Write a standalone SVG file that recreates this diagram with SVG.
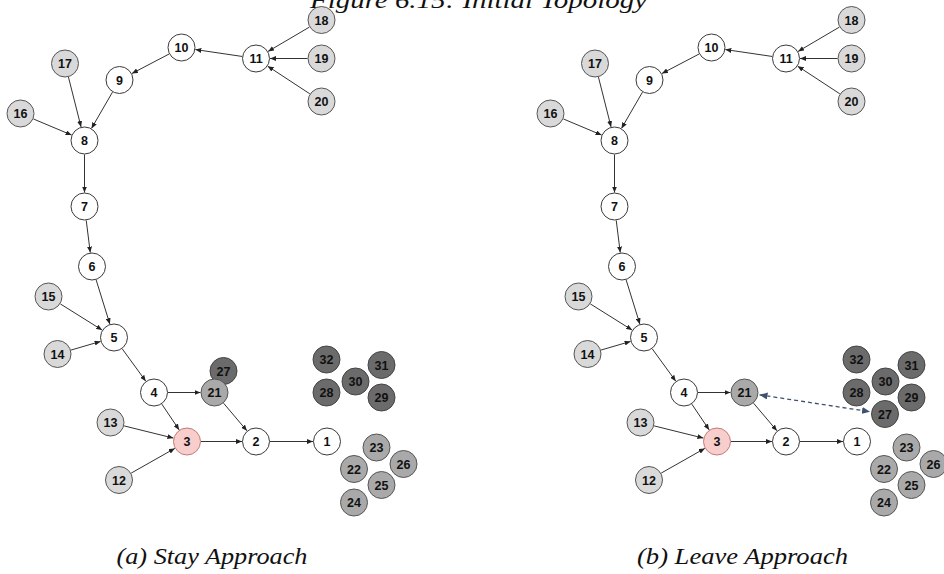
<svg xmlns="http://www.w3.org/2000/svg" width="944" height="574" viewBox="0 0 944 574">
  <style>
    .n circle { stroke: #3a3a3a; stroke-width: 1; }
    .n text { font-family: "Liberation Sans", Arial, sans-serif; font-weight: bold; font-size: 12.5px; fill: #111; text-anchor: middle; }
    .w circle { fill: #ffffff; }
    .l circle { fill: #d9d9d9; stroke: #555; }
    .m circle { fill: #a9a9a9; stroke: #555; }
    .d circle { fill: #6b6b6b; stroke: #444; }
    .p circle { fill: #f8cecc; stroke: #c47a77; }
    .e line { stroke: #333; stroke-width: 1; fill: none; marker-end: url(#ah); }
    .cap { font-family: "Liberation Serif", "Times New Roman", serif; font-style: italic; font-size: 24px; fill: #111; }
  </style>
  <defs>
    <marker id="ah" markerWidth="6" markerHeight="5" refX="6" refY="2.5" orient="auto" markerUnits="userSpaceOnUse">
      <path d="M0,0 L6,2.5 L0,5 z" fill="#222"/>
    </marker>
    <marker id="dh" markerWidth="8" markerHeight="7" refX="8" refY="3.5" orient="auto-start-reverse" markerUnits="userSpaceOnUse">
      <path d="M0,0 L8,3.5 L0,7 z" fill="#3e5170"/>
    </marker>
  </defs>

  <rect x="0" y="0" width="944" height="574" fill="#ffffff"/>

  <!-- figure title, partly above the top edge -->
  <text class="cap" x="310" y="8" textLength="337" lengthAdjust="spacingAndGlyphs">Figure 6.15: Initial Topology</text>

  <!-- ===== panel (a) ===== -->
  <g id="panel-a">
    <g id="a-edges" class="e">
      <line x1="242.15" y1="56.45" x2="195.35" y2="49.55"/>
      <line x1="309.43" y1="27.09" x2="268.07" y2="51.41"/>
      <line x1="307.5" y1="58.5" x2="270" y2="58.5"/>
      <line x1="309.8" y1="93.82" x2="267.7" y2="66.18"/>
      <line x1="169.1" y1="54" x2="131.9" y2="73.5"/>
      <line x1="112.49" y1="92.12" x2="91.51" y2="128.38"/>
      <line x1="68.44" y1="77.07" x2="81.06" y2="126.93"/>
      <line x1="33.4" y1="118.94" x2="71.6" y2="135.06"/>
      <line x1="84.5" y1="154.5" x2="84.5" y2="192.5"/>
      <line x1="86.24" y1="220.39" x2="90.26" y2="252.61"/>
      <line x1="96.14" y1="279.87" x2="109.86" y2="324.13"/>
      <line x1="60.37" y1="303.93" x2="102.13" y2="330.07"/>
      <line x1="70.94" y1="350.08" x2="100.56" y2="341.42"/>
      <line x1="122.23" y1="348.82" x2="145.77" y2="381.18"/>
      <line x1="168" y1="392.5" x2="200.5" y2="392.5"/>
      <line x1="161.82" y1="404.11" x2="179.18" y2="429.89"/>
      <line x1="223.55" y1="403.18" x2="246.95" y2="430.82"/>
      <line x1="124.09" y1="425.88" x2="173.41" y2="438.12"/>
      <line x1="131.18" y1="473.1" x2="174.82" y2="448.4"/>
      <line x1="201" y1="441.5" x2="242" y2="441.5"/>
      <line x1="270" y1="441.5" x2="313" y2="441.5"/>
    </g>
    <g id="a-n1" class="n w"><circle cx="327" cy="441.5" r="13.5"/><text x="327" y="446">1</text></g>
    <g id="a-n2" class="n w"><circle cx="256" cy="441.5" r="13.5"/><text x="256" y="446">2</text></g>
    <g id="a-n3" class="n p"><circle cx="187" cy="441.5" r="13.5"/><text x="187" y="446">3</text></g>
    <g id="a-n4" class="n w"><circle cx="154" cy="392.5" r="13.5"/><text x="154" y="397">4</text></g>
    <g id="a-n5" class="n w"><circle cx="114" cy="337.5" r="13.5"/><text x="114" y="342">5</text></g>
    <g id="a-n6" class="n w"><circle cx="92" cy="266.5" r="13.5"/><text x="92" y="271">6</text></g>
    <g id="a-n7" class="n w"><circle cx="84.5" cy="206.5" r="13.5"/><text x="84.5" y="211">7</text></g>
    <g id="a-n8" class="n w"><circle cx="84.5" cy="140.5" r="13.5"/><text x="84.5" y="145">8</text></g>
    <g id="a-n9" class="n w"><circle cx="119.5" cy="80" r="13.5"/><text x="119.5" y="84.5">9</text></g>
    <g id="a-n10" class="n w"><circle cx="181.5" cy="47.5" r="13.5"/><text x="181.5" y="52">10</text></g>
    <g id="a-n11" class="n w"><circle cx="256" cy="58.5" r="13.5"/><text x="256" y="63">11</text></g>
    <g id="a-n12" class="n l"><circle cx="119" cy="480" r="13.5"/><text x="119" y="484.5">12</text></g>
    <g id="a-n13" class="n l"><circle cx="110.5" cy="422.5" r="13.5"/><text x="110.5" y="427">13</text></g>
    <g id="a-n14" class="n l"><circle cx="57.5" cy="354" r="13.5"/><text x="57.5" y="358.5">14</text></g>
    <g id="a-n15" class="n l"><circle cx="48.5" cy="296.5" r="13.5"/><text x="48.5" y="301">15</text></g>
    <g id="a-n16" class="n l"><circle cx="20.5" cy="113.5" r="13.5"/><text x="20.5" y="118">16</text></g>
    <g id="a-n17" class="n l"><circle cx="65" cy="63.5" r="13.5"/><text x="65" y="68">17</text></g>
    <g id="a-n18" class="n l"><circle cx="321.5" cy="20" r="13.5"/><text x="321.5" y="24.5">18</text></g>
    <g id="a-n19" class="n l"><circle cx="321.5" cy="58.5" r="13.5"/><text x="321.5" y="63">19</text></g>
    <g id="a-n20" class="n l"><circle cx="321.5" cy="101.5" r="13.5"/><text x="321.5" y="106">20</text></g>
    <g id="a-n27" class="n d"><circle cx="223.5" cy="371" r="13.5"/><text x="223.5" y="375.5">27</text></g>
    <g id="a-n21" class="n m"><circle cx="214.5" cy="392.5" r="13.5"/><text x="214.5" y="397">21</text></g>
    <g id="a-n22" class="n m"><circle cx="354" cy="469" r="13.5"/><text x="354" y="473.5">22</text></g>
    <g id="a-n23" class="n m"><circle cx="376.5" cy="447.5" r="13.5"/><text x="376.5" y="452">23</text></g>
    <g id="a-n24" class="n m"><circle cx="354" cy="502.5" r="13.5"/><text x="354" y="507">24</text></g>
    <g id="a-n25" class="n m"><circle cx="381.5" cy="485" r="13.5"/><text x="381.5" y="489.5">25</text></g>
    <g id="a-n26" class="n m"><circle cx="403.5" cy="464" r="13.5"/><text x="403.5" y="468.5">26</text></g>
    <g id="a-n28" class="n d"><circle cx="326.5" cy="392.5" r="13.5"/><text x="326.5" y="397">28</text></g>
    <g id="a-n29" class="n d"><circle cx="381.5" cy="397.5" r="13.5"/><text x="381.5" y="402">29</text></g>
    <g id="a-n30" class="n d"><circle cx="355.5" cy="381.5" r="13.5"/><text x="355.5" y="386">30</text></g>
    <g id="a-n31" class="n d"><circle cx="381.5" cy="365" r="13.5"/><text x="381.5" y="369.5">31</text></g>
    <g id="a-n32" class="n d"><circle cx="326.5" cy="359.5" r="13.5"/><text x="326.5" y="364">32</text></g>
  </g>
  <text class="cap" x="116.5" y="564" textLength="191" lengthAdjust="spacingAndGlyphs">(a) Stay Approach</text>

  <!-- ===== panel (b): same tree, node 27 moved into the dark cluster ===== -->
  <g id="panel-b" transform="translate(530,0)">
    <g id="b-edges" class="e">
      <line x1="242.15" y1="56.45" x2="195.35" y2="49.55"/>
      <line x1="309.43" y1="27.09" x2="268.07" y2="51.41"/>
      <line x1="307.5" y1="58.5" x2="270" y2="58.5"/>
      <line x1="309.8" y1="93.82" x2="267.7" y2="66.18"/>
      <line x1="169.1" y1="54" x2="131.9" y2="73.5"/>
      <line x1="112.49" y1="92.12" x2="91.51" y2="128.38"/>
      <line x1="68.44" y1="77.07" x2="81.06" y2="126.93"/>
      <line x1="33.4" y1="118.94" x2="71.6" y2="135.06"/>
      <line x1="84.5" y1="154.5" x2="84.5" y2="192.5"/>
      <line x1="86.24" y1="220.39" x2="90.26" y2="252.61"/>
      <line x1="96.14" y1="279.87" x2="109.86" y2="324.13"/>
      <line x1="60.37" y1="303.93" x2="102.13" y2="330.07"/>
      <line x1="70.94" y1="350.08" x2="100.56" y2="341.42"/>
      <line x1="122.23" y1="348.82" x2="145.77" y2="381.18"/>
      <line x1="168" y1="392.5" x2="200.5" y2="392.5"/>
      <line x1="161.82" y1="404.11" x2="179.18" y2="429.89"/>
      <line x1="223.55" y1="403.18" x2="246.95" y2="430.82"/>
      <line x1="124.09" y1="425.88" x2="173.41" y2="438.12"/>
      <line x1="131.18" y1="473.1" x2="174.82" y2="448.4"/>
      <line x1="201" y1="441.5" x2="242" y2="441.5"/>
      <line x1="270" y1="441.5" x2="313" y2="441.5"/>
      <!-- 21 <-> 27 link -->
      <line x1="229.5" y1="394.8" x2="340" y2="411.7" style="stroke:#3e5170;stroke-width:1.3;stroke-dasharray:4 3;marker-start:url(#dh);marker-end:url(#dh)"/>
    </g>
    <g id="b-n1" class="n w"><circle cx="327" cy="441.5" r="13.5"/><text x="327" y="446">1</text></g>
    <g id="b-n2" class="n w"><circle cx="256" cy="441.5" r="13.5"/><text x="256" y="446">2</text></g>
    <g id="b-n3" class="n p"><circle cx="187" cy="441.5" r="13.5"/><text x="187" y="446">3</text></g>
    <g id="b-n4" class="n w"><circle cx="154" cy="392.5" r="13.5"/><text x="154" y="397">4</text></g>
    <g id="b-n5" class="n w"><circle cx="114" cy="337.5" r="13.5"/><text x="114" y="342">5</text></g>
    <g id="b-n6" class="n w"><circle cx="92" cy="266.5" r="13.5"/><text x="92" y="271">6</text></g>
    <g id="b-n7" class="n w"><circle cx="84.5" cy="206.5" r="13.5"/><text x="84.5" y="211">7</text></g>
    <g id="b-n8" class="n w"><circle cx="84.5" cy="140.5" r="13.5"/><text x="84.5" y="145">8</text></g>
    <g id="b-n9" class="n w"><circle cx="119.5" cy="80" r="13.5"/><text x="119.5" y="84.5">9</text></g>
    <g id="b-n10" class="n w"><circle cx="181.5" cy="47.5" r="13.5"/><text x="181.5" y="52">10</text></g>
    <g id="b-n11" class="n w"><circle cx="256" cy="58.5" r="13.5"/><text x="256" y="63">11</text></g>
    <g id="b-n12" class="n l"><circle cx="119" cy="480" r="13.5"/><text x="119" y="484.5">12</text></g>
    <g id="b-n13" class="n l"><circle cx="110.5" cy="422.5" r="13.5"/><text x="110.5" y="427">13</text></g>
    <g id="b-n14" class="n l"><circle cx="57.5" cy="354" r="13.5"/><text x="57.5" y="358.5">14</text></g>
    <g id="b-n15" class="n l"><circle cx="48.5" cy="296.5" r="13.5"/><text x="48.5" y="301">15</text></g>
    <g id="b-n16" class="n l"><circle cx="20.5" cy="113.5" r="13.5"/><text x="20.5" y="118">16</text></g>
    <g id="b-n17" class="n l"><circle cx="65" cy="63.5" r="13.5"/><text x="65" y="68">17</text></g>
    <g id="b-n18" class="n l"><circle cx="321.5" cy="20" r="13.5"/><text x="321.5" y="24.5">18</text></g>
    <g id="b-n19" class="n l"><circle cx="321.5" cy="58.5" r="13.5"/><text x="321.5" y="63">19</text></g>
    <g id="b-n20" class="n l"><circle cx="321.5" cy="101.5" r="13.5"/><text x="321.5" y="106">20</text></g>
    <g id="b-n21" class="n m"><circle cx="214.5" cy="392.5" r="13.5"/><text x="214.5" y="397">21</text></g>
    <g id="b-n22" class="n m"><circle cx="354" cy="469" r="13.5"/><text x="354" y="473.5">22</text></g>
    <g id="b-n23" class="n m"><circle cx="376.5" cy="447.5" r="13.5"/><text x="376.5" y="452">23</text></g>
    <g id="b-n24" class="n m"><circle cx="354" cy="502.5" r="13.5"/><text x="354" y="507">24</text></g>
    <g id="b-n25" class="n m"><circle cx="381.5" cy="485" r="13.5"/><text x="381.5" y="489.5">25</text></g>
    <g id="b-n26" class="n m"><circle cx="403.5" cy="464" r="13.5"/><text x="403.5" y="468.5">26</text></g>
    <g id="b-n28" class="n d"><circle cx="326.5" cy="392.5" r="13.5"/><text x="326.5" y="397">28</text></g>
    <g id="b-n29" class="n d"><circle cx="381.5" cy="397.5" r="13.5"/><text x="381.5" y="402">29</text></g>
    <g id="b-n30" class="n d"><circle cx="355.5" cy="381.5" r="13.5"/><text x="355.5" y="386">30</text></g>
    <g id="b-n31" class="n d"><circle cx="381.5" cy="365" r="13.5"/><text x="381.5" y="369.5">31</text></g>
    <g id="b-n32" class="n d"><circle cx="326.5" cy="359.5" r="13.5"/><text x="326.5" y="364">32</text></g>
    <g id="b-n27" class="n d"><circle cx="355" cy="414" r="13.5"/><text x="355" y="418.5">27</text></g>
  </g>
  <text class="cap" x="637" y="564" textLength="211" lengthAdjust="spacingAndGlyphs">(b) Leave Approach</text>
</svg>
